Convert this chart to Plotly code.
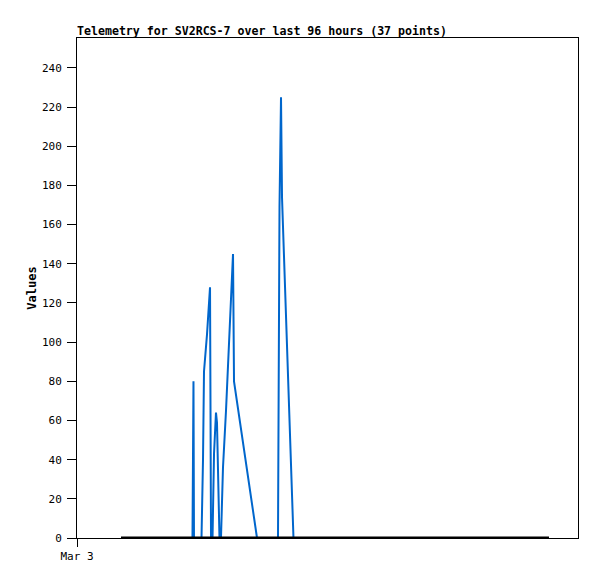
import plotly.graph_objects as go

# hours since Mar 3 00:00
hours = [8.78, 23.05, 23.15, 23.25, 23.35,
         24.85, 25.15, 25.35, 25.95, 26.55, 26.75,
         27.05, 27.35, 27.74, 27.94, 28.14, 28.44,
         28.74, 29.14, 29.74, 30.28, 30.68, 31.14, 31.34, 35.93,
         40.12, 40.22, 40.42, 40.72, 40.92, 43.21, 94.21]
values = [0, 0, 40, 80, 0,
          0, 40, 85, 104, 128, 0,
          0, 43, 64, 59, 37, 0,
          0, 36, 65, 94, 122, 145, 80, 0,
          0, 56, 169, 225, 174, 0, 0]
base_hours = [8.78, 94.21]
base_values = [0, 0]
y_ticks = list(range(0, 241, 20))
x_tick_vals = [0]
x_tick_text = ["Mar 3"]

mono = "DejaVu Sans Mono"
W, H = 597, 579

fig = go.Figure()
fig.add_trace(go.Scatter(x=hours, y=values, mode="lines",
                         line=dict(color="#0066CC", width=2), hoverinfo="skip"))
fig.add_trace(go.Scatter(x=base_hours, y=base_values, mode="lines",
                         line=dict(color="#000000", width=3), hoverinfo="skip"))

fig.update_layout(
    width=W, height=H,
    margin=dict(l=77, r=19, t=38, b=41),
    paper_bgcolor="white", plot_bgcolor="white",
    showlegend=False,
    title=dict(text="<b>Telemetry for SV2RCS-7 over last 96 hours (37 points)</b>",
               x=77/W, xanchor="left", y=1-35/H, yanchor="bottom",
               font=dict(family=mono, size=11.6, color="black")),
    xaxis=dict(range=[0, 100], tickvals=x_tick_vals, ticktext=x_tick_text,
               ticks="outside", ticklen=8, tickcolor="black",
               showline=True, linecolor="black", linewidth=1, mirror=True,
               showgrid=False, zeroline=False,
               tickfont=dict(family=mono, size=11, color="black")),
    yaxis=dict(range=[0, 255.3], tickvals=y_ticks,
               ticks="outside", ticklen=9, tickcolor="black",
               ticklabelstandoff=3,
               showline=True, linecolor="black", linewidth=1, mirror=True,
               showgrid=False, zeroline=False,
               title=dict(text="<b>Values</b>", standoff=2,
                          font=dict(family=mono, size=12, color="black")),
               tickfont=dict(family=mono, size=11, color="black")),
)

fig.write_html("out.html", config={"displayModeBar": False},
               post_script="document.body.style.margin='0';")
